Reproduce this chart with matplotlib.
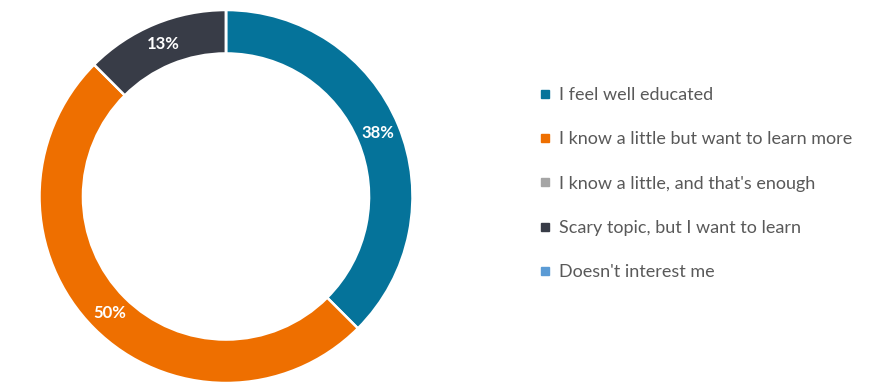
import matplotlib.pyplot as plt
from matplotlib.lines import Line2D

plt.rcParams['font.family'] = ['Lato', 'DejaVu Sans']

categories = ["I feel well educated",
              "I know a little but want to learn more",
              "I know a little, and that's enough",
              "Scary topic, but I want to learn",
              "Doesn't interest me"]
shares = [37.5, 50.0, 0.0, 12.5, 0.0]   # percent
colors = ['#05739A', '#EE6F00', '#A5A5A5', '#383C47', '#5B9BD5']

W, H = 871, 390
fig = plt.figure(figsize=(W / 100, H / 100), dpi=100)

# donut: center (226, 196.5) px, outer radius 186.5 px
cx, cy, r = 226, 196.5, 186.5
ax = fig.add_axes([(cx - r) / W, (H - cy - r) / H, 2 * r / W, 2 * r / H])

wedges, texts, autotexts = ax.pie(
    shares, colors=colors, startangle=90, counterclock=False,
    radius=1.0, pctdistance=0.883,
    autopct=lambda p: f'{int(p + 0.5)}%' if p > 0 else '',
    wedgeprops=dict(width=0.233, edgecolor='white', linewidth=1.8),
    textprops=dict(color='white', fontsize=12, fontweight='bold'))
ax.set_xlim(-1, 1)
ax.set_ylim(-1, 1)
ax.set_aspect('equal')
ax.axis('off')

handles = [Line2D([], [], marker='s', linestyle='', markersize=6,
                  markerfacecolor=c, markeredgecolor=c) for c in colors]
leg = fig.legend(handles, categories, loc='upper left',
                 bbox_to_anchor=(531 / W, 1 - 78 / H), frameon=False,
                 fontsize=13, handlelength=0.6, handletextpad=0.45,
                 labelspacing=1.57, borderpad=0)
for t in leg.get_texts():
    t.set_color('#595959')

fig.savefig('out.png', dpi=100)
